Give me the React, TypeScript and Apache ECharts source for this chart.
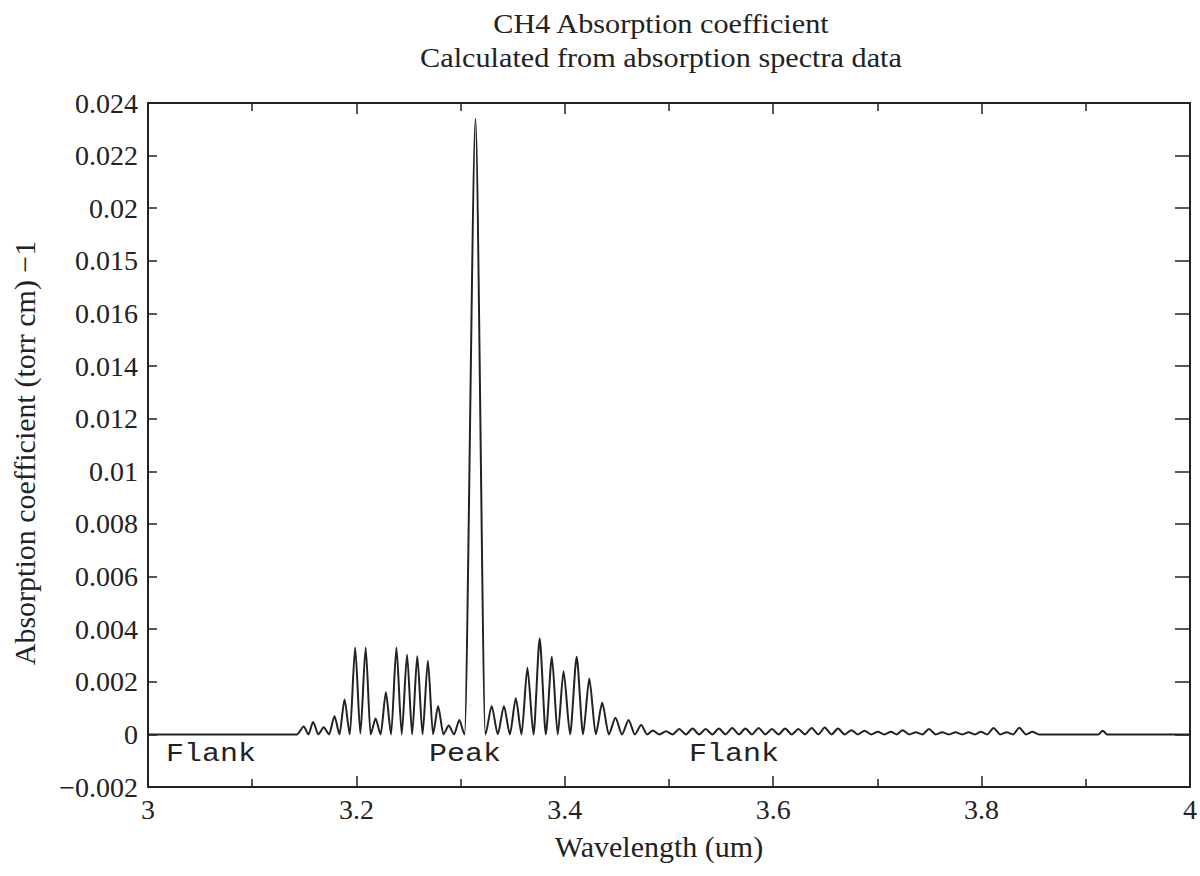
import React, { useEffect, useRef } from "react";
import * as echarts from "echarts";

// Title lines
const titleLines = ["CH4 Absorption coefficient", "Calculated from absorption spectra data"];
const xAxisName = "Wavelength (um)";
const yAxisName = "Absorption coefficient (torr cm) \u22121";

// Y tick labels as printed on the original (bottom to top)
const yTickLabels = [
  "\u22120.002", "0", "0.002", "0.004", "0.006", "0.008", "0.01",
  "0.012", "0.014", "0.016", "0.015", "0.02", "0.022", "0.024",
];

// Region annotations
const regionLabels = ["Flank", "Peak", "Flank"];

// Spectrum: wavelength (um) and absorption coefficient
const wavelengths = [
  3.0, 3.143,
  3.1495, 3.154, 3.1584, 3.1635, 3.1686, 3.1738, 3.179, 3.1838, 3.1886, 3.1937,
  3.1988, 3.2038, 3.2089, 3.2136, 3.2184, 3.2233, 3.2283, 3.2333, 3.2384, 3.2435,
  3.2486, 3.2535, 3.2584, 3.2635, 3.2686, 3.2735, 3.2784, 3.2835, 3.2886, 3.2937,
  3.2988, 3.3038, 3.3143, 3.3238,
  3.3298, 3.3357, 3.3416, 3.3473, 3.353, 3.3585, 3.3641, 3.37, 3.3759, 3.3818,
  3.3876, 3.3932, 3.3988, 3.4051, 3.4114, 3.4175, 3.4235, 3.4297, 3.4359, 3.4422,
  3.4486, 3.4549, 3.4612, 3.4672, 3.4733, 3.4789, 3.4845, 3.4908,
  3.4971, 3.5035, 3.5098, 3.5162, 3.5226, 3.5289, 3.5352, 3.5416, 3.5479, 3.5543,
  3.5607, 3.567, 3.5733, 3.5797, 3.586, 3.5924, 3.5988, 3.6051, 3.6114, 3.6178,
  3.6241, 3.6305, 3.6369, 3.6432, 3.6495, 3.6559, 3.6622, 3.6686, 3.675, 3.6813,
  3.6876, 3.694, 3.7003, 3.7067, 3.713, 3.7186, 3.7241, 3.7305, 3.7369, 3.7432,
  3.7495, 3.7559, 3.7622, 3.7686, 3.775, 3.7813, 3.7876, 3.7935, 3.7993, 3.8054,
  3.8114, 3.8178, 3.8241, 3.8302, 3.8362, 3.8426, 3.8489, 3.855,
  3.912, 3.9162, 3.9205, 4.0,
];
const absorption = [
  0, 0,
  0.0003, 0, 0.00047, 0, 0.00027, 0, 0.00069, 0, 0.00133, 0,
  0.0033, 0.00003, 0.0033, 0, 0.0006, 0, 0.0016, 0, 0.0033, 0,
  0.00304, 0, 0.00298, 0, 0.0028, 0, 0.00108, 0, 0.00034, 0,
  0.00055, 0, 0.0234, 0,
  0.00108, 0, 0.00108, 0, 0.00137, 0, 0.00253, 0, 0.00364, 0,
  0.00295, 0, 0.0024, 0, 0.00295, 0, 0.00212, 0, 0.0012, 0,
  0.00063, 0, 0.00055, 0, 0.00036, 0, 0.00015, 0,
  0.00012, 0, 0.0002, 0, 0.00022, 0, 0.0002, 0, 0.00022, 0,
  0.00024, 0, 0.00022, 0, 0.00024, 0, 0.0002, 0, 0.00022, 0,
  0.0002, 0, 0.00024, 0, 0.00026, 0, 0.00022, 0, 0.00016, 0,
  0.00014, 0, 0.0001, 0, 0.0001, 0, 0.00016, 0, 0.00008, 0,
  0.0002, 0, 0.00008, 0, 0.00008, 0, 0.00008, 0, 0.0001, 0,
  0.00024, 0, 0.00008, 0, 0.00025, 0, 0.0001, 0,
  0, 0.00014, 0, 0,
];

const INK = "#222222";
const SERIF = '"Liberation Serif", "Times New Roman", serif';
const MONO = '"Liberation Mono", "Courier New", monospace';

export default function App() {
  const ref = useRef<HTMLDivElement>(null);

  useEffect(() => {
    if (!ref.current) return;
    const chart = echarts.init(ref.current, undefined, { renderer: "svg" });
    const data = wavelengths.map((w, i) => [w, absorption[i]]);

    const xCommon = {
      type: "value" as const,
      min: 3,
      max: 4,
      interval: 0.2,
      splitLine: { show: false },
      axisLine: { show: true, onZero: false, lineStyle: { color: INK, width: 2 } },
      axisTick: { show: true, inside: true, length: 11, lineStyle: { color: INK, width: 1.5 } },
      minorTick: { show: true, splitNumber: 2, length: 8, lineStyle: { color: INK, width: 1.5 } },
    };

    const monoLabel = (text: string, x: number) => ({
      type: "text",
      x,
      y: 754,
      scaleX: 1.2,
      style: { text, font: `25px ${MONO}`, fill: INK, align: "left", verticalAlign: "middle" },
    });

    chart.setOption({
      animation: false,
      backgroundColor: "#ffffff",
      grid: { left: 148, right: 2, top: 103, bottom: 89, containLabel: false },
      xAxis: [
        {
          ...xCommon,
          position: "bottom",
          name: xAxisName,
          nameLocation: "middle",
          nameGap: 44,
          nameTextStyle: { fontFamily: SERIF, fontSize: 30, color: INK, padding: [0, 20, 0, 0] },
          axisLabel: { show: true, fontFamily: SERIF, fontSize: 28, color: INK, margin: 8 },
        },
        {
          ...xCommon,
          position: "top",
          axisLabel: { show: false },
        },
      ],
      yAxis: [
        {
          type: "value",
          min: -0.002,
          max: 0.024,
          interval: 0.002,
          position: "left",
          name: yAxisName,
          nameLocation: "middle",
          nameGap: 109,
          nameRotate: 90,
          nameTextStyle: { fontFamily: SERIF, fontSize: 30, color: INK, padding: [0, 16, 0, 0] },
          splitLine: { show: false },
          axisLine: { show: true, onZero: false, lineStyle: { color: INK, width: 2 } },
          axisTick: { show: true, inside: true, length: 9, lineStyle: { color: INK, width: 1.5 } },
          axisLabel: {
            show: true,
            fontFamily: SERIF,
            fontSize: 28,
            color: INK,
            margin: 10,
            formatter: (v: number) => yTickLabels[Math.round((v + 0.002) / 0.002)] ?? "",
          },
        },
        {
          type: "value",
          min: -0.002,
          max: 0.024,
          interval: 0.002,
          position: "right",
          splitLine: { show: false },
          axisLine: { show: true, onZero: false, lineStyle: { color: INK, width: 2 } },
          axisTick: { show: true, inside: true, length: 15, lineStyle: { color: INK, width: 1.5 } },
          axisLabel: { show: false },
        },
      ],
      series: [
        {
          type: "line",
          data,
          xAxisIndex: 0,
          yAxisIndex: 0,
          showSymbol: false,
          symbol: "none",
          smooth: 0.25,
          smoothMonotone: "x",
          lineStyle: { color: INK, width: 2 },
          silent: true,
        },
      ],
      graphic: [
        {
          type: "text",
          x: 661,
          y: 24,
          scaleX: 1.12,
          style: { text: titleLines[0], font: `27px ${SERIF}`, fill: INK, align: "center", verticalAlign: "middle" },
        },
        {
          type: "text",
          x: 661,
          y: 58,
          scaleX: 1.12,
          style: { text: titleLines[1], font: `27px ${SERIF}`, fill: INK, align: "center", verticalAlign: "middle" },
        },
        monoLabel(regionLabels[0], 166),
        monoLabel(regionLabels[1], 429),
        monoLabel(regionLabels[2], 689),
      ],
    });

    return () => chart.dispose();
  }, []);

  return (
    <div
      ref={ref}
      style={{ position: "absolute", left: 0, top: 0, width: 1200, height: 876, background: "#fff" }}
    />
  );
}
